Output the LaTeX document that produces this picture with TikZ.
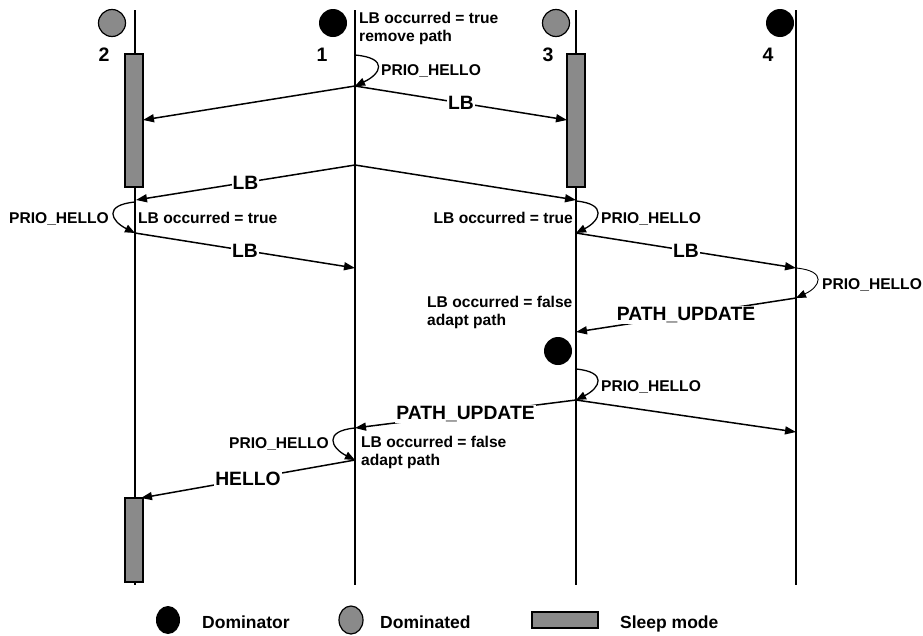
\documentclass[tikz,border=0pt]{standalone}
\usepackage{fontspec}
\setmainfont{Liberation Sans}
\usetikzlibrary{arrows.meta,shapes.geometric}
\definecolor{sleepgray}{RGB}{138,138,138}
\tikzset{
  lifeline/.style={line width=1.8pt},
  msg/.style={line width=1.5pt,-{Triangle[length=11pt,width=8pt]}},
  loopmsg/.style={line width=1.3pt,-{Triangle[length=10pt,width=8pt]}},
  thinloop/.style={line width=0.9pt,-{Triangle[length=10pt,width=8pt]}},
  msglabel/.style={fill=white,inner sep=1pt,font=\fontsize{19.3}{21}\selectfont\bfseries},
  note/.style={inner sep=0pt,align=left,font=\fontsize{15.6}{18}\selectfont\bfseries},
  legendtext/.style={inner sep=0pt,font=\fontsize{17.5}{20}\selectfont\bfseries},
  sleepbox/.style={draw,line width=1.4pt,fill=sleepgray,inner sep=0pt},
  dominator/.style={circle,fill=black,minimum size=28pt,inner sep=0pt},
  dominated/.style={circle,draw,line width=1.2pt,fill=sleepgray,minimum size=27pt,inner sep=0pt},
  nodenum/.style={inner sep=0pt,font=\fontsize{19.5}{20}\selectfont\bfseries},
}
\begin{document}
\begin{tikzpicture}[x=1pt,y=-1pt]
\useasboundingbox (0,0) rectangle (923,635);

% lifelines of the four nodes
\foreach \n/\x in {2/135,1/355,3/576,4/796}{
  \coordinate (top\n) at (\x,10);
  \coordinate (bot\n) at (\x,585);
  \draw[lifeline] (top\n) -- (bot\n);
}

% node states and numbers
\node[dominated] (c2) at (112,23) {};
\node[dominator] (c1) at (333,23) {};
\node[dominated] (c3) at (556,23) {};
\node[dominator] (c4) at (780,23) {};
\node[nodenum] (n2) at (104,55) {2};
\node[nodenum] (n1) at (322,55) {1};
\node[nodenum] (n3) at (548,55) {3};
\node[nodenum] (n4) at (768,55) {4};

% sleep periods
\node[sleepbox,minimum width=18pt,minimum height=133pt] (s2a) at (134,120.5) {};
\node[sleepbox,minimum width=18pt,minimum height=133pt] (s3a) at (576,120.5) {};
\node[sleepbox,minimum width=18pt,minimum height=84pt] (s2b) at (134,540) {};

% event points on the lifelines
\coordinate (a1) at (355,55);
\coordinate (b1) at (355,86);
\coordinate (b2) at (143,120);
\coordinate (b3) at (567,120);
\coordinate (d1) at (355,165);
\coordinate (d2) at (136,200);
\coordinate (d3) at (576,200);
\coordinate (e2) at (135,202);
\coordinate (f2) at (135,233);
\coordinate (f1) at (355,268);
\coordinate (e3) at (576,201);
\coordinate (f3) at (576,233);
\coordinate (g4) at (796,268);
\coordinate (h4) at (796,298);
\coordinate (h3) at (576,332);
\coordinate (i3) at (576,369);
\coordinate (j3) at (576,400);
\coordinate (j1) at (355,428);
\coordinate (j4) at (796,432);
\coordinate (k1) at (355,460);
\coordinate (k2) at (141,498);

% node 1 starts the load balancing
\node[note,anchor=north west] (t1) at (359,12) {LB occurred = true\\remove path};
\draw[loopmsg] (a1) .. controls (389,58) and (381,74) .. (b1);
\node[note,anchor=base west] (p1) at (381,75) {PRIO\_HELLO};
\draw[msg] (b1) -- (b2);
\draw[msg] (b1) -- node[msglabel] {LB} (b3);

\draw[msg] (d1) -- node[msglabel] {LB} (d2);
\draw[msg] (d1) -- (d3);

% node 2 reacts
\draw[loopmsg] (e2) .. controls (103,205) and (111,221) .. (f2);
\node[note,anchor=base east] (p2) at (109,223) {PRIO\_HELLO};
\node[note,anchor=base west] (t2) at (138,223) {LB occurred = true};
\draw[msg] (f2) -- node[msglabel] {LB} (f1);

% node 3 reacts
\draw[loopmsg] (e3) .. controls (608,204) and (600,221) .. (f3);
\node[note,anchor=base east] (t3) at (573,223) {LB occurred = true};
\node[note,anchor=base west] (p3) at (601,223) {PRIO\_HELLO};
\draw[msg] (f3) -- node[msglabel] {LB} (g4);

% node 4 answers with a path update
\draw[thinloop] (g4) .. controls (828,271) and (820,287) .. (h4);
\node[note,anchor=base west] (p4) at (822,289) {PRIO\_HELLO};
\draw[msg] (h4) -- node[msglabel] {PATH\_UPDATE} (h3);
\node[note,anchor=base west] (t4) at (427,325) {LB occurred = false\\adapt path};

% node 3 becomes dominator
\node[dominator] (c3b) at (558,351) {};
\draw[loopmsg] (i3) .. controls (608,372) and (600,388) .. (j3);
\node[note,anchor=base west] (p5) at (601,391) {PRIO\_HELLO};
\draw[msg] (j3) -- node[msglabel] {PATH\_UPDATE} (j1);
\draw[msg] (j3) -- (j4);

% node 1 adapts its path
\draw[loopmsg] (j1) .. controls (323,431) and (331,448) .. (k1);
\node[note,anchor=base east] (p6) at (329,448) {PRIO\_HELLO};
\node[note,anchor=base west] (t6) at (361,465) {LB occurred = false\\adapt path};
\draw[msg] (k1) -- node[msglabel] {HELLO} (k2);

% legend
\node[ellipse,fill=black,minimum width=24pt,minimum height=28pt,inner sep=0pt] (lg1) at (168,620) {};
\node[legendtext,anchor=base west] (lt1) at (202,628) {Dominator};
\node[ellipse,draw,line width=1.2pt,fill=sleepgray,minimum width=24pt,minimum height=28pt,inner sep=0pt] (lg2) at (351,620) {};
\node[legendtext,anchor=base west] (lt2) at (380,628) {Dominated};
\node[sleepbox,minimum width=66pt,minimum height=16pt] (lg3) at (565,620) {};
\node[legendtext,anchor=base west] (lt3) at (620,628) {Sleep mode};
\end{tikzpicture}
\end{document}
